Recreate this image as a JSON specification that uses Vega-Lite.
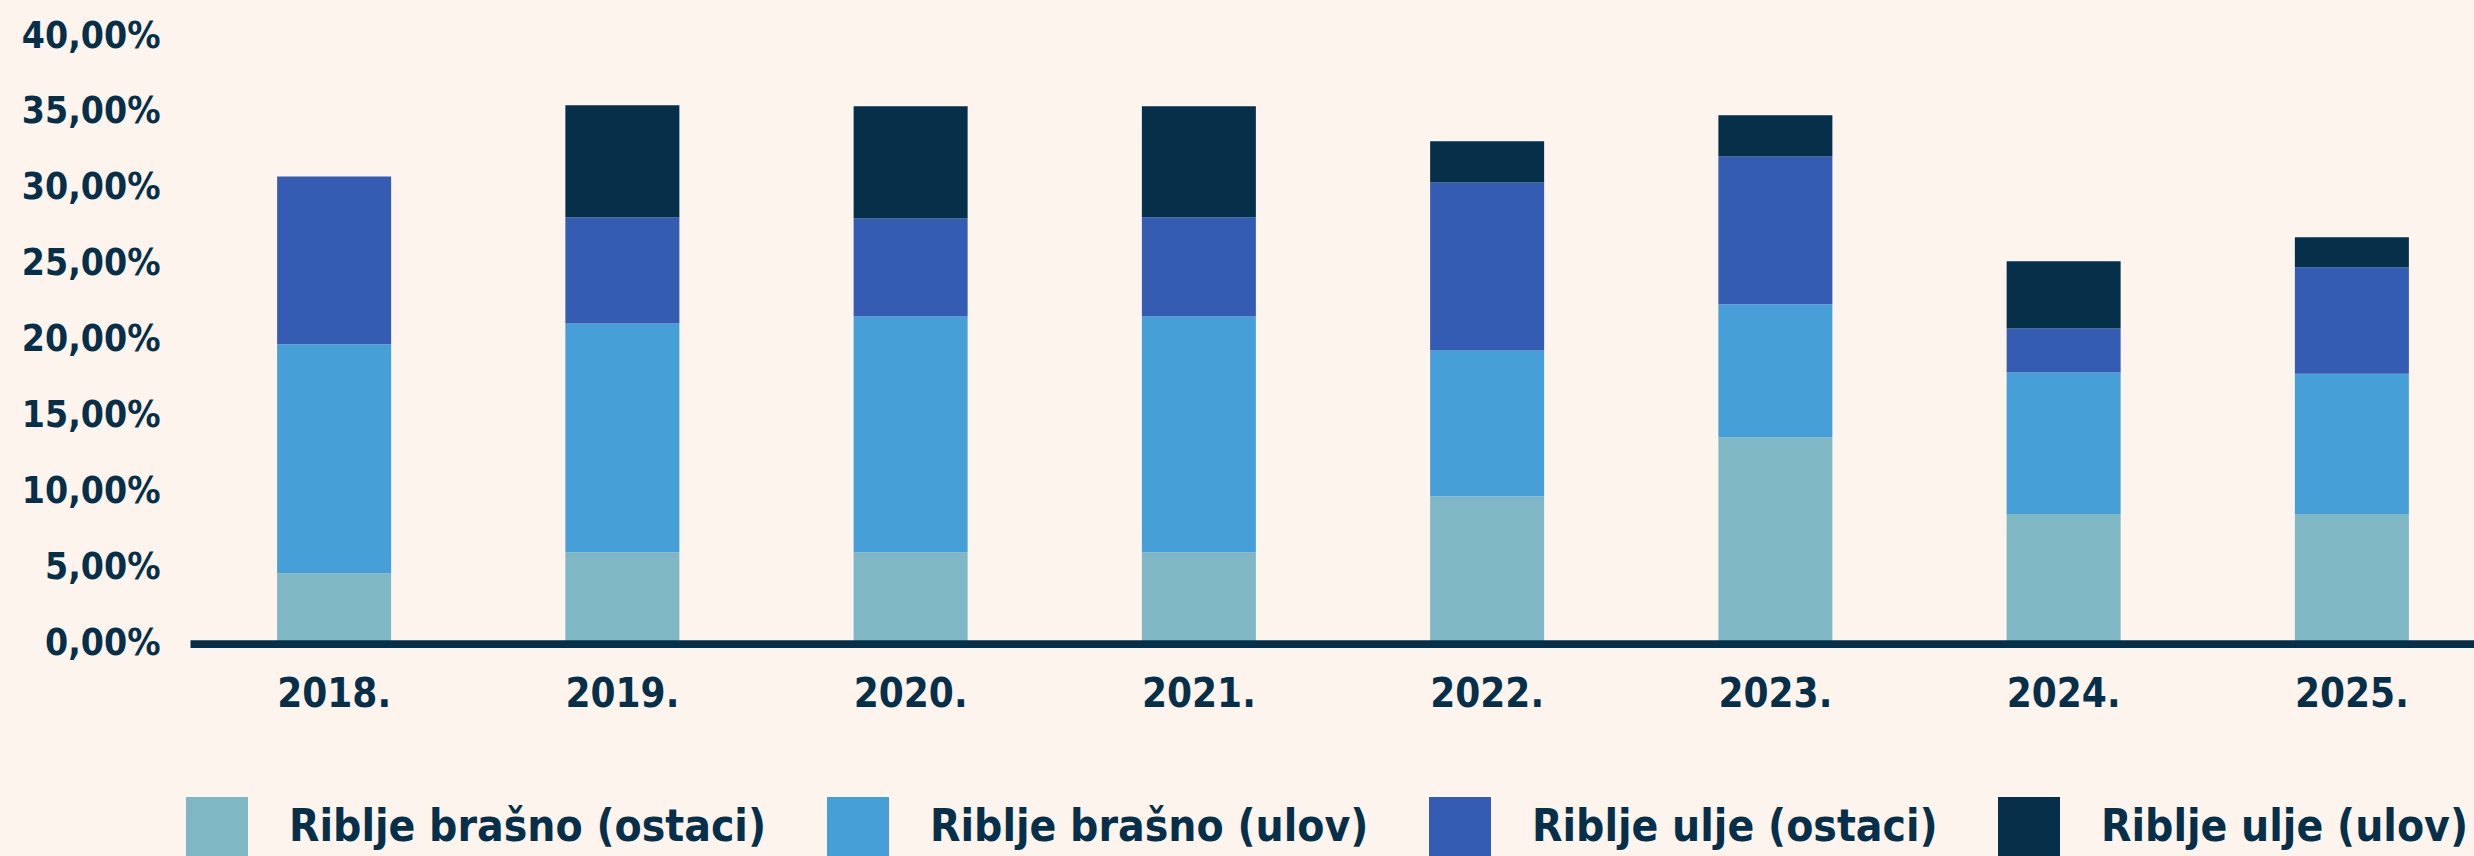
{
  "$schema": "https://vega.github.io/schema/vega-lite/v6.json",
  "width": 2306,
  "height": 607.6,
  "autosize": "none",
  "padding": {"left": 190, "top": 36, "right": 0, "bottom": 212.4},
  "background": "#fdf4ee",
  "config": {
    "view": {"stroke": null},
    "font": "DejaVu Sans Condensed, Roboto, sans-serif",
    "axis": {"labelFont": "DejaVu Sans Condensed, Roboto, sans-serif", "labelColor": "#06304a", "labelFontWeight": "bold"},
    "legend": {"labelFont": "DejaVu Sans Condensed, Roboto, sans-serif"}
  },
  "data": {
    "values": [
      {"godina": "2018.", "vrsta": "Riblje brašno (ostaci)", "n": 1, "udio": 4.63},
      {"godina": "2018.", "vrsta": "Riblje brašno (ulov)", "n": 2, "udio": 15.07},
      {"godina": "2018.", "vrsta": "Riblje ulje (ostaci)", "n": 3, "udio": 11.05},
      {"godina": "2018.", "vrsta": "Riblje ulje (ulov)", "n": 4, "udio": 0},
      {"godina": "2019.", "vrsta": "Riblje brašno (ostaci)", "n": 1, "udio": 6.02},
      {"godina": "2019.", "vrsta": "Riblje brašno (ulov)", "n": 2, "udio": 15.06},
      {"godina": "2019.", "vrsta": "Riblje ulje (ostaci)", "n": 3, "udio": 6.98},
      {"godina": "2019.", "vrsta": "Riblje ulje (ulov)", "n": 4, "udio": 7.38},
      {"godina": "2020.", "vrsta": "Riblje brašno (ostaci)", "n": 1, "udio": 6.02},
      {"godina": "2020.", "vrsta": "Riblje brašno (ulov)", "n": 2, "udio": 15.52},
      {"godina": "2020.", "vrsta": "Riblje ulje (ostaci)", "n": 3, "udio": 6.44},
      {"godina": "2020.", "vrsta": "Riblje ulje (ulov)", "n": 4, "udio": 7.39},
      {"godina": "2021.", "vrsta": "Riblje brašno (ostaci)", "n": 1, "udio": 6.02},
      {"godina": "2021.", "vrsta": "Riblje brašno (ulov)", "n": 2, "udio": 15.52},
      {"godina": "2021.", "vrsta": "Riblje ulje (ostaci)", "n": 3, "udio": 6.52},
      {"godina": "2021.", "vrsta": "Riblje ulje (ulov)", "n": 4, "udio": 7.31},
      {"godina": "2022.", "vrsta": "Riblje brašno (ostaci)", "n": 1, "udio": 9.7},
      {"godina": "2022.", "vrsta": "Riblje brašno (ulov)", "n": 2, "udio": 9.6},
      {"godina": "2022.", "vrsta": "Riblje ulje (ostaci)", "n": 3, "udio": 11.05},
      {"godina": "2022.", "vrsta": "Riblje ulje (ulov)", "n": 4, "udio": 2.72},
      {"godina": "2023.", "vrsta": "Riblje brašno (ostaci)", "n": 1, "udio": 13.58},
      {"godina": "2023.", "vrsta": "Riblje brašno (ulov)", "n": 2, "udio": 8.76},
      {"godina": "2023.", "vrsta": "Riblje ulje (ostaci)", "n": 3, "udio": 9.73},
      {"godina": "2023.", "vrsta": "Riblje ulje (ulov)", "n": 4, "udio": 2.72},
      {"godina": "2024.", "vrsta": "Riblje brašno (ostaci)", "n": 1, "udio": 8.53},
      {"godina": "2024.", "vrsta": "Riblje brašno (ulov)", "n": 2, "udio": 9.31},
      {"godina": "2024.", "vrsta": "Riblje ulje (ostaci)", "n": 3, "udio": 2.9},
      {"godina": "2024.", "vrsta": "Riblje ulje (ulov)", "n": 4, "udio": 4.43},
      {"godina": "2025.", "vrsta": "Riblje brašno (ostaci)", "n": 1, "udio": 8.53},
      {"godina": "2025.", "vrsta": "Riblje brašno (ulov)", "n": 2, "udio": 9.24},
      {"godina": "2025.", "vrsta": "Riblje ulje (ostaci)", "n": 3, "udio": 7.0},
      {"godina": "2025.", "vrsta": "Riblje ulje (ulov)", "n": 4, "udio": 1.98}
    ]
  },
  "mark": {"type": "bar"},
  "encoding": {
    "x": {
      "field": "godina",
      "type": "ordinal",
      "scale": {"paddingInner": 0.6045, "paddingOuter": 0.30225},
      "axis": {
        "title": null,
        "labelAngle": 0,
        "labelFontSize": 40,
        "labelPadding": 31,
        "ticks": false,
        "domainColor": "#06304a",
        "domainWidth": 7.6,
        "zindex": 1
      }
    },
    "y": {
      "field": "udio",
      "type": "quantitative",
      "stack": "zero",
      "scale": {"domain": [0, 40], "nice": false},
      "axis": {
        "title": null,
        "values": [0, 5, 10, 15, 20, 25, 30, 35, 40],
        "labelExpr": "replace(format(datum.value, '.2f'), '.', ',') + '%'",
        "labelFontSize": 37,
        "labelPadding": 30,
        "ticks": false,
        "domain": false,
        "grid": false
      }
    },
    "color": {
      "field": "vrsta",
      "type": "nominal",
      "sort": ["Riblje brašno (ostaci)", "Riblje brašno (ulov)", "Riblje ulje (ostaci)", "Riblje ulje (ulov)"],
      "scale": {
        "domain": ["Riblje brašno (ostaci)", "Riblje brašno (ulov)", "Riblje ulje (ostaci)", "Riblje ulje (ulov)"],
        "range": ["#7fb7c4", "#479fd8", "#355cb3", "#06304a"]
      },
      "legend": {
        "title": null,
        "orient": "none",
        "direction": "horizontal",
        "legendX": -4,
        "legendY": 761,
        "symbolType": "square",
        "symbolSize": 3844,
        "symbolStrokeWidth": 0,
        "symbolOpacity": 1,
        "labelFontSize": 44,
        "labelFontWeight": "bold",
        "labelColor": "#06304a",
        "labelOffset": 41,
        "labelLimit": 0,
        "columnPadding": 60,
        "padding": 0
      }
    },
    "order": {"field": "n", "type": "quantitative"}
  }
}
